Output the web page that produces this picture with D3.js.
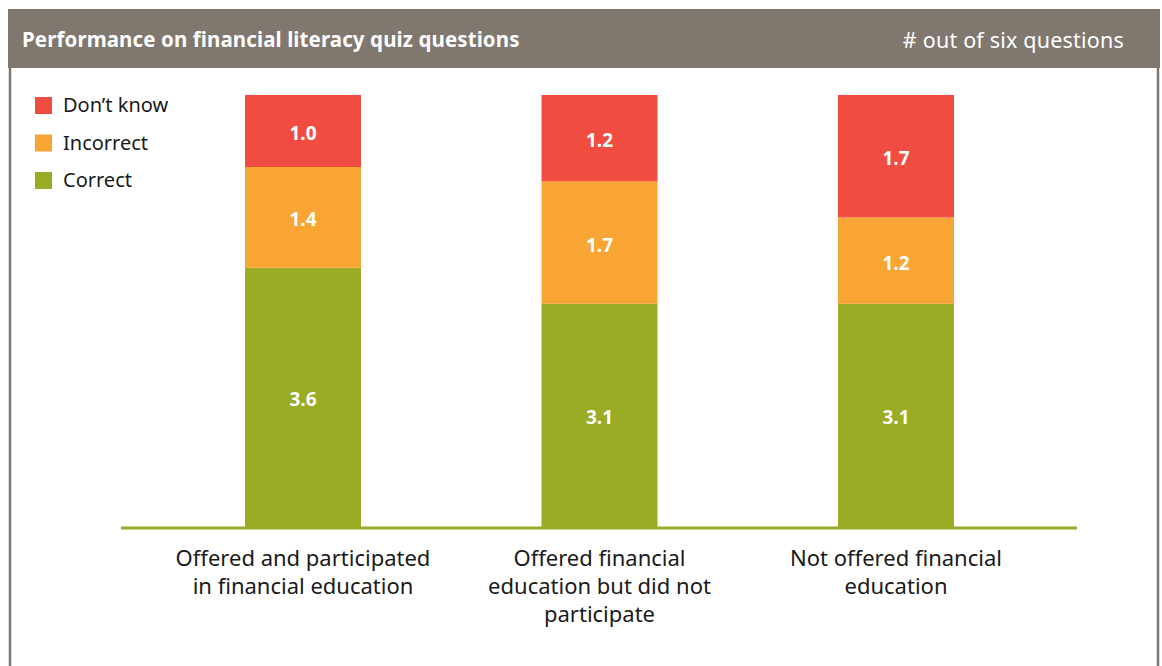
<!DOCTYPE html>
<meta charset="utf-8">
<title>Performance on financial literacy quiz questions</title>
<style>
  body { margin: 0; background: #fff; }
  svg { display: block; font-family: "Noto Sans", sans-serif; }
</style>
<svg width="1162" height="666"></svg>
<script src="https://cdn.jsdelivr.net/npm/d3@7"></script>
<script>
  var categories = [
    ["Offered and participated", "in financial education"],
    ["Offered financial", "education but did not", "participate"],
    ["Not offered financial", "education"]
  ]
  var seriesNames = ["Correct", "Incorrect", "Don\u2019t know"]
  var correct = [3.6, 3.1, 3.1]
  var incorrect = [1.4, 1.7, 1.2]
  var dontKnow = [1.0, 1.2, 1.7]
  var colors = ["#9aab24", "#f9a533", "#f04c40"]

  var svg = d3.select("svg"),
    width = +svg.attr("width"),
    height = +svg.attr("height")

  // frame + header band
  svg.append("rect").attr("x", 8).attr("y", 9).attr("width", 1152).attr("height", 59).attr("fill", "#80776f")
  svg.append("line").attr("x1", 10).attr("x2", 10).attr("y1", 68).attr("y2", height)
    .attr("stroke", "#80776f").attr("stroke-width", 2.5)
  svg.append("line").attr("x1", 1158).attr("x2", 1158).attr("y1", 68).attr("y2", height)
    .attr("stroke", "#80776f").attr("stroke-width", 2.5)
  svg.append("text").attr("x", 22).attr("y", 47).attr("fill", "#fff")
    .attr("font-size", "20.5px").attr("font-weight", "bold").attr("letter-spacing", "0.1px")
    .text("Performance on financial literacy quiz questions")
  svg.append("text").attr("x", 1124).attr("y", 48).attr("fill", "#fff")
    .attr("font-size", "21.5px").attr("text-anchor", "end").attr("letter-spacing", "0.2px")
    .text("# out of six questions")

  var rows = categories.map(function(c, i) {
    return { i: i, Correct: correct[i], Incorrect: incorrect[i], "Don\u2019t know": dontKnow[i] }
  })
  var stack = d3.stack().keys(seriesNames)(rows)

  var x = d3.scaleBand().domain(d3.range(categories.length)).range([154.75, 1044.25])
    .paddingInner(0.6088).paddingOuter(0.3044)
  var y = d3.scaleLinear().domain([0, 6]).range([527, 95])
  var color = d3.scaleOrdinal().domain(seriesNames).range(colors)

  var layer = svg.append("g").selectAll("g").data(stack).join("g")
    .attr("fill", function(d) { return color(d.key) })
  layer.selectAll("rect").data(function(d) { return d }).join("rect")
    .attr("x", function(d) { return x(d.data.i) })
    .attr("width", x.bandwidth())
    .attr("y", function(d) { return y(d[1]) })
    .attr("height", function(d) { return y(d[0]) - y(d[1]) })

  layer.selectAll("text").data(function(d) { return d }).join("text")
    .attr("x", function(d) { return x(d.data.i) + x.bandwidth() / 2 })
    .attr("y", function(d) { return (y(d[0]) + y(d[1])) / 2 + 9 })
    .attr("text-anchor", "middle").attr("fill", "#fff")
    .attr("font-size", "19px").attr("font-weight", "bold")
    .text(function(d) { return d3.format(".1f")(d[1] - d[0]) })

  // baseline
  svg.append("line").attr("x1", 121).attr("x2", 1077).attr("y1", y(0) + 1).attr("y2", y(0) + 1)
    .attr("stroke", "#9aab24").attr("stroke-width", 3)

  // category labels
  var cat = svg.append("g").selectAll("text").data(categories).join("text")
    .attr("text-anchor", "middle").attr("font-size", "22px").attr("fill", "#1a1a1a")
    .attr("transform", function(d, i) { return "translate(" + (x(i) + x.bandwidth() / 2) + ",566)" })
  cat.selectAll("tspan").data(function(d) { return d }).join("tspan")
    .attr("x", 0).attr("y", function(d, j) { return j * 28 })
    .text(function(d) { return d })

  // legend
  var legend = svg.append("g").selectAll("g").data(seriesNames.slice().reverse()).join("g")
    .attr("transform", function(d, i) { return "translate(35," + (97 + i * 37.5) + ")" })
  legend.append("rect").attr("width", 17).attr("height", 17).attr("fill", function(d) { return color(d) })
  legend.append("text").attr("x", 28).attr("y", 15).attr("font-size", "20px").attr("fill", "#1a1a1a")
    .text(function(d) { return d })
</script>
